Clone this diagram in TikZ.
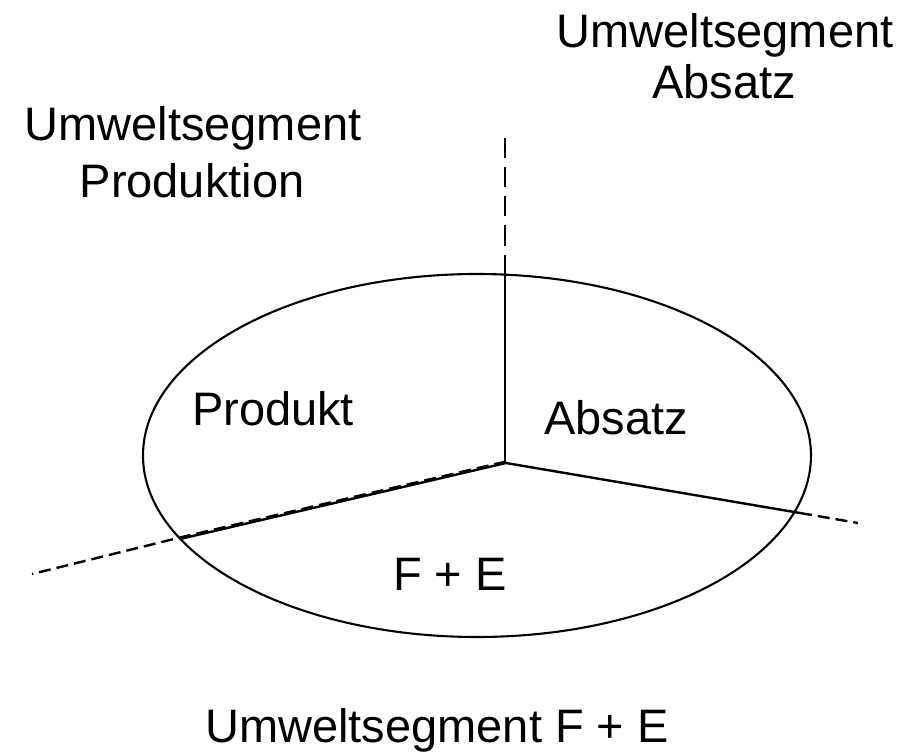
\documentclass[tikz,border=0pt]{standalone}
\usepackage{fontspec}
\setmainfont{Liberation Sans}
\begin{document}
\begin{tikzpicture}[x=1pt,y=-1pt,
  lbl/.style={anchor=base,inner sep=0pt,font=\fontsize{47}{56}\selectfont},
  solidline/.style={line width=2.4pt},
  longdash/.style={line width=2.4pt,dash pattern=on 20pt off 9pt},
  shortdash/.style={line width=2.4pt,dash pattern=on 12pt off 6pt}]
\useasboundingbox (0,0) rectangle (902,754);
\fill[white] (0,0) rectangle (902,754);
% coordinates
\coordinate (C) at (506,463);
\coordinate (Vtop) at (505,274.5);
\coordinate (Vend) at (505,132);
\coordinate (Rint) at (800,513);
\coordinate (Rend) at (858,523);
\coordinate (Lint) at (180,539);
\coordinate (Lend) at (32,574);
% ellipse
\draw[line width=2.1pt] (477,455.5) ellipse [x radius=334, y radius=181.5];
% spokes
\draw[solidline] (505,463) -- (Vtop);
\draw[longdash] (Vtop) -- (Vend);
\draw[solidline] (C) -- (Rint);
\draw[shortdash] (Rint) -- (Rend);
\draw[solidline] (C) -- (Lint);
\draw[shortdash] ([yshift=1.5pt]C) -- ([yshift=1.5pt]Lint) -- (Lend);
% labels
\node[lbl] (t1) at (725,48) {Umweltsegment};
\node[lbl] (t2) at (724,99) {Absatz};
\node[lbl] (l1) at (193,141) {Umweltsegment};
\node[lbl] (l2) at (192,197) {Produktion};
\node[lbl] (prod) at (273,425) {Produkt};
\node[lbl] (abs) at (616,434) {Absatz};
\node[lbl] (fe) at (450,590) {F + E};
\node[lbl] (bot) at (437,742) {Umweltsegment F + E};
\end{tikzpicture}
\end{document}
